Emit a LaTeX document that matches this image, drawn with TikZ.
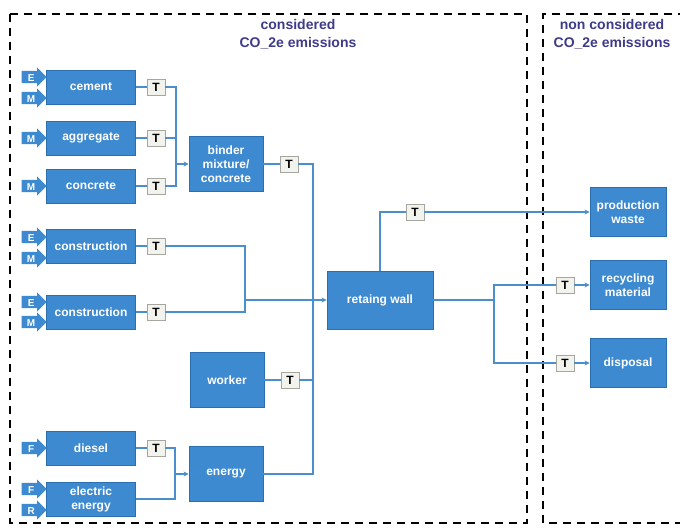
\documentclass[tikz,border=0pt]{standalone}
\usepackage{fontspec}
\setmainfont{Liberation Sans}
\usepackage{xcolor}
\definecolor{cBox}{HTML}{3D8AD0}
\definecolor{cBoxEdge}{HTML}{2C6FB0}
\definecolor{cLine}{HTML}{4A8FCB}
\definecolor{cTitle}{HTML}{3E3B8A}
\definecolor{cTag}{HTML}{F3F3EE}
\definecolor{cTagEdge}{HTML}{A6A6A0}
\usepackage{tikz}
\usetikzlibrary{positioning,arrows.meta,shapes.arrows}
\tikzset{
  node-box/.style={draw=cBoxEdge,fill=cBox,line width=0.8pt,text=white,
    align=center,font=\fontsize{12}{14}\selectfont\bfseries,inner sep=1pt},
  node-src/.style={node-box,minimum width=89pt,minimum height=34pt},
  node-mid/.style={node-box,minimum width=74pt,minimum height=55pt},
  node-out/.style={node-box,minimum width=76pt,minimum height=49pt},
  node-tag/.style={draw=cTagEdge,fill=cTag,line width=0.6pt,
    minimum width=18pt,minimum height=16pt,inner sep=0pt,
    font=\fontsize{12}{12}\selectfont\bfseries},
  node-in/.style={single arrow,fill=cBox,draw=none,text=white,
    minimum height=25pt,single arrow head extend=3.5pt,
    inner xsep=1pt,inner ysep=2pt,text height=8pt,text depth=0pt,
    font=\fontsize{10}{10}\selectfont\bfseries},
  node-title/.style={text=cTitle,align=center,
    font=\fontsize{14}{18}\selectfont\bfseries},
  line/.style={draw=cLine,line width=1.7pt},
  arrow/.style={line,-{Stealth[length=5pt,width=5pt]}},
  border/.style={draw=black,line width=2.6pt,dash pattern=on 8pt off 6pt},
}

\begin{document}
\begin{tikzpicture}[x=1pt,y=1pt]
  \fill[white] (0,0) rectangle (680,-528);
  \useasboundingbox (0,0) rectangle (680,-528);
  % frames
  \draw[border] (10,-14) rectangle (527,-523);
  \draw[border] (686,-14) -| (543,-523) -- (686,-523);
  \node[node-title] (title-in) at (298,-34) {considered\\CO\_2e emissions};
  \node[node-title] (title-out) at (612,-34) {non considered\\CO\_2e emissions};

  % sources with transport
  \foreach \name/\txt/\y in {cement/cement/87, aggregate/aggregate/138,
      concrete/concrete/186, constr-a/construction/246,
      constr-b/construction/312, diesel/diesel/448} {
    \node[node-src] (\name) at (91,-\y) {\txt};
    \node[node-tag] (t-\name) at (156,-\y) {T};
    \draw[line] (\name) -- (t-\name);
  }
  \node[node-src] (electric) at (91,-499) {electric\\energy};
  \foreach \ltr/\y in {E/77, M/98, M/138, M/186, E/237, M/258,
      E/302, M/322, F/448, F/489, R/510} {
    \node[node-in,anchor=tip] (in-\y) at (47,-\y) {\ltr};
  }

  \node[node-mid] (mix) at (226,-164) {binder\\mixture/\\concrete};
  \node[node-tag] (t-mix) at (289,-164) {T};
  \node[node-mid] (worker) at (227,-380) {worker};
  \node[node-tag] (t-worker) at (290,-380) {T};
  \node[node-mid] (energy) at (226,-474) {energy};
  \node[node-box,minimum width=106pt,minimum height=58pt] (wall)
    at (380,-300) {retaing wall};

  \node[node-out] (waste) at (628,-212) {production\\waste};
  \node[node-out] (recycle) at (628,-285) {recycling\\material};
  \node[node-out] (disposal) at (628,-363) {disposal};
  \node[node-tag] (t-waste) at (415,-212) {T};
  \node[node-tag] (t-recycle) at (565,-285) {T};
  \node[node-tag] (t-disposal) at (565,-363) {T};

  % junctions
  \coordinate (j-mix) at (176,-164);
  \coordinate (j-energy) at (175,-474);
  \coordinate (j-constr) at (245,-300);
  \coordinate (j-wall) at (313,-300);
  \coordinate (j-out) at (494,-300);

  \draw[line] (t-cement) -| (j-mix);
  \draw[line] (t-concrete) -| (j-mix);
  \draw[line] (t-aggregate) -- (t-aggregate -| j-mix);
  \draw[arrow] (j-mix) -- (mix);
  \draw[line] (t-diesel) -| (j-energy);
  \draw[line] (electric) -| (j-energy);
  \draw[arrow] (j-energy) -- (energy);
  \draw[line] (t-constr-a) -| (j-constr);
  \draw[line] (t-constr-b) -| (j-constr);
  \draw[arrow] (j-constr) -- (wall);
  \draw[line] (mix) -- (t-mix);
  \draw[line] (worker) -- (t-worker);
  \draw[line] (t-mix) -| (j-wall);
  \draw[line] (energy) -| (j-wall);
  \draw[line] (t-worker) -- (t-worker -| j-wall);
  \draw[line] (wall) |- (t-waste);
  \draw[arrow] (t-waste) -- (waste);
  \draw[line] (wall) -- (j-out);
  \draw[line] (j-out) |- (t-recycle);
  \draw[line] (j-out) |- (t-disposal);
  \draw[arrow] (t-recycle) -- (recycle);
  \draw[arrow] (t-disposal) -- (disposal);
\end{tikzpicture}
\end{document}
